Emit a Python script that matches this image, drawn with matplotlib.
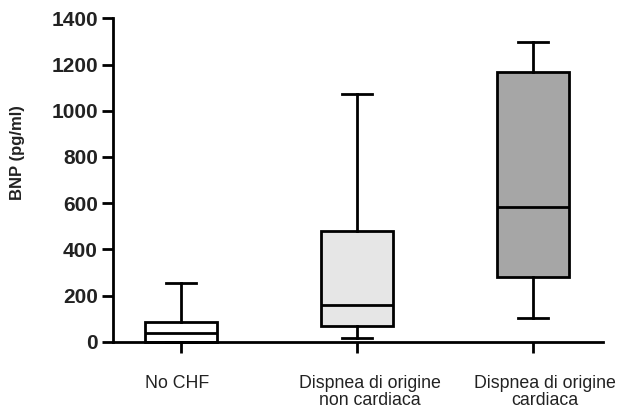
import matplotlib.pyplot as plt
from matplotlib.transforms import ScaledTranslation

# groups and box statistics (pg/ml)
labels = ["No CHF", "Dispnea di origine\nnon cardiaca", "Dispnea di origine\ncardiaca"]
whis_low = [0, 16, 101]
q1 = [0, 68, 279]
median = [39, 159, 582]
q3 = [84, 479, 1166]
whis_high = [255, 1072, 1296]
colors = ["#ffffff", "#e6e6e6", "#a6a6a6"]

plt.rcParams['font.family'] = ['Liberation Sans', 'DejaVu Sans']

fig = plt.figure(figsize=(6.19, 4.09), dpi=100)
ax = fig.add_axes([0.1826, 0.1645, 0.7914, 0.7905])

stats = []
for i in range(len(labels)):
    stats.append({'whislo': whis_low[i], 'q1': q1[i], 'med': median[i],
                  'q3': q3[i], 'whishi': whis_high[i], 'fliers': []})

lw = 2.0
bp = ax.bxp(stats, positions=range(len(labels)), widths=0.41, patch_artist=True,
            showfliers=False, capwidths=0.17,
            boxprops=dict(linewidth=lw, edgecolor='black'),
            medianprops=dict(color='black', linewidth=lw),
            whiskerprops=dict(color='black', linewidth=lw),
            capprops=dict(color='black', linewidth=lw))
for patch, c in zip(bp['boxes'], colors):
    patch.set_facecolor(c)
for key in bp:
    for a in bp[key]:
        a.set_clip_on(False)

ax.set_xlim(-0.386, 2.4)
ax.set_ylim(0, 1400)
ax.set_yticks(range(0, 1401, 200))
ax.set_xticks(range(len(labels)))
ax.set_xticklabels([])

# category names: in the original they sit a bit off their ticks
shifts = [-4, 13, 12]
for i, (name, dx) in enumerate(zip(labels, shifts)):
    tr = ax.get_xaxis_transform() + ScaledTranslation(dx / 100, -0.33, fig.dpi_scale_trans)
    ax.text(i, 0, name, transform=tr, ha='center', va='top', fontsize=12.8,
            color='#222222', linespacing=1.0)

for lab in ax.get_yticklabels():
    lab.set_fontweight('bold')
    lab.set_fontsize(15)
    lab.set_color('#222222')

ax.spines['top'].set_visible(False)
ax.spines['right'].set_visible(False)
ax.spines['left'].set_linewidth(lw)
ax.spines['bottom'].set_linewidth(lw)
ax.tick_params(axis='both', width=lw, length=8)
ax.tick_params(axis='y', pad=3)

ax.set_ylabel("BNP (pg/ml)", fontsize=12, fontweight='bold', color='#222222')
ax.yaxis.set_label_coords(-0.18, 0.584)

fig.savefig("out.png", dpi=100)
